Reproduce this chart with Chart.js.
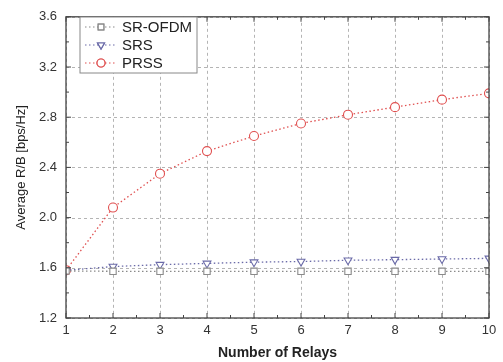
<!DOCTYPE html>
<html>
<head>
<meta charset="utf-8">
<script src="https://cdn.jsdelivr.net/npm/chart.js@4/dist/chart.umd.min.js"></script>
<style>
  html, body { margin:0; padding:0; background:#fff; }
  #wrap { width:503px; height:362px; }
</style>
</head>
<body>
<div id="wrap"><canvas id="c" width="503" height="362"></canvas></div>
<script>
const relays = [1,2,3,4,5,6,7,8,9,10];
const srOfdm = [1.575,1.572,1.572,1.572,1.572,1.572,1.572,1.572,1.572,1.572];
const srs    = [1.58,1.61,1.625,1.635,1.645,1.65,1.66,1.665,1.67,1.675];
const prss   = [1.58,2.08,2.35,2.53,2.65,2.75,2.82,2.88,2.94,2.99];
const yTicks = [1.2,1.6,2.0,2.4,2.8,3.2,3.6];

const FONT = '"Liberation Sans", Arial, sans-serif';
const pts = arr => arr.map((v,i)=>({x:relays[i], y:v}));

function ds(label, data, color, style, rot){
  return {
    label, data: pts(data), borderColor: color, backgroundColor: '#fff',
    borderWidth: 1.3, borderDash: [1.5,2.5], pointStyle: style, pointRotation: rot||0,
    pointRadius: 4.5, pointBorderWidth: 1.1, pointBorderColor: color, fill:false, tension:0
  };
}

// dashed grid drawn under the data
const dgrid = {
  id:'dgrid',
  beforeDatasetsDraw(chart){
    const {ctx, chartArea:a, scales:{x, y}} = chart;
    ctx.save();
    ctx.strokeStyle = '#b4b4b4';
    ctx.lineWidth = 1;
    ctx.setLineDash([3,3]);
    relays.forEach(v=>{
      const px = Math.round(x.getPixelForValue(v))+0.5;
      ctx.beginPath(); ctx.moveTo(px,a.top); ctx.lineTo(px,a.bottom); ctx.stroke();
    });
    yTicks.forEach(v=>{
      const py = Math.round(y.getPixelForValue(v))+0.5;
      ctx.beginPath(); ctx.moveTo(a.left,py); ctx.lineTo(a.right,py); ctx.stroke();
    });
    ctx.restore();
  }
};

// inward ticks, frame and legend box
const decor = {
  id:'decor',
  afterDraw(chart){
    const {ctx, chartArea:a, scales:{x, y}} = chart;
    ctx.save();
    ctx.strokeStyle = '#444';
    ctx.lineWidth = 1.3;
    ctx.setLineDash([]);
    ctx.strokeRect(a.left, a.top, a.right-a.left, a.bottom-a.top);
    ctx.lineWidth = 1;
    for (let v=1; v<=10.001; v+=0.5){
      const px = x.getPixelForValue(v), L = v%1===0 ? 5 : 3;
      ctx.beginPath(); ctx.moveTo(px,a.bottom); ctx.lineTo(px,a.bottom-L);
      ctx.moveTo(px,a.top); ctx.lineTo(px,a.top+L); ctx.stroke();
    }
    for (let v=1.2; v<=3.601; v+=0.2){
      const py = y.getPixelForValue(v), L = Math.abs(Math.round(v*10)%4)===0 ? 5 : 3;
      ctx.beginPath(); ctx.moveTo(a.left,py); ctx.lineTo(a.left+L,py);
      ctx.moveTo(a.right,py); ctx.lineTo(a.right-L,py); ctx.stroke();
    }
    // legend
    const lx = 80, ly = 17, lw = 117, lh = 56;
    ctx.fillStyle = '#fff';
    ctx.fillRect(lx,ly,lw,lh);
    ctx.strokeStyle = '#888';
    ctx.strokeRect(lx,ly,lw,lh);
    chart.data.datasets.forEach((d,i)=>{
      const cy = ly + 10 + i*18;
      ctx.strokeStyle = d.borderColor;
      ctx.lineWidth = 1.2;
      ctx.setLineDash([1.5,2.5]);
      ctx.beginPath(); ctx.moveTo(lx+5,cy); ctx.lineTo(lx+37,cy); ctx.stroke();
      ctx.setLineDash([]);
      Chart.helpers.drawPoint(ctx, {pointStyle:d.pointStyle, rotation:d.pointRotation, radius:4, borderWidth:1.1}, lx+21, cy);
      ctx.fillStyle = '#fff';
      ctx.fill();
      ctx.stroke();
      ctx.fillStyle = '#222';
      ctx.font = '15px ' + FONT;
      ctx.textBaseline = 'middle';
      ctx.fillText(d.label, lx+42, cy+1);
    });
    ctx.restore();
  }
};

new Chart(document.getElementById('c'), {
  type:'line',
  data:{ datasets:[
    ds('SR-OFDM', srOfdm, '#8a8a8a', 'rect', 0),
    ds('SRS', srs, '#6a6aa8', 'triangle', 180),
    ds('PRSS', prss, '#e05050', 'circle', 0)
  ]},
  options:{
    responsive:false, animation:false,
    layout:{ padding:{ left:0, right:14, top:14, bottom:0 } },
    plugins:{ legend:{ display:false }, tooltip:{ enabled:false } },
    scales:{
      x:{
        type:'linear', min:1, max:10,
        afterFit(s){ s.height = 44; },
        afterBuildTicks(s){ s.ticks = relays.map(v=>({value:v})); },
        grid:{ display:false, drawTicks:false, tickLength:0 },
        border:{ display:false },
        ticks:{ padding:5, color:'#333', font:{ family:FONT, size:13 }, maxRotation:0 },
        title:{ display:true, text:'Number of Relays', color:'#222', padding:{top:3,bottom:0}, font:{ family:FONT, size:14, weight:'bold' } }
      },
      y:{
        min:1.2, max:3.6,
        afterFit(s){ s.width = 66; },
        afterBuildTicks(s){ s.ticks = yTicks.map(v=>({value:v})); },
        grid:{ display:false, drawTicks:false, tickLength:0 },
        border:{ display:false },
        ticks:{ padding:9, color:'#333', font:{ family:FONT, size:13 }, callback:v=>v.toFixed(1) },
        title:{ display:true, text:'Average R/B [bps/Hz]', color:'#222', padding:{top:14,bottom:4}, font:{ family:FONT, size:13 } }
      }
    }
  },
  plugins:[dgrid, decor]
});
</script>
</body>
</html>
